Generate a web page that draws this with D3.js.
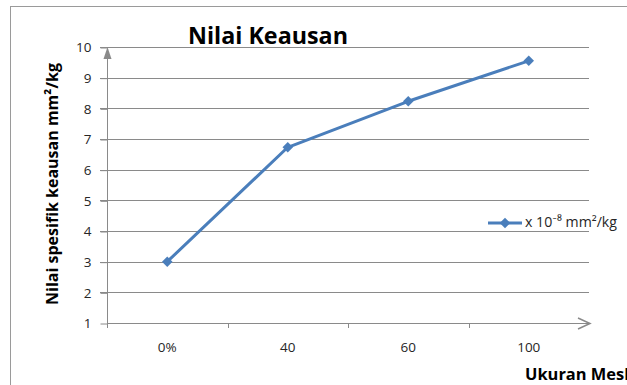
<!DOCTYPE html>
<html>
<head>
<meta charset="utf-8">
<script src="https://cdn.jsdelivr.net/npm/d3@7"></script>
<style>
  html, body { margin: 0; padding: 0; background: #fff; }
  svg { display: block; }
  text { font-family: "Open Sans", Lato, sans-serif; }
</style>
</head>
<body>
<svg id="chart" width="627" height="385"></svg>
<script>
const categories = ["0%", "40", "60", "100"];
const values = [3.0, 6.73, 8.23, 9.55];
const yTicks = [1, 2, 3, 4, 5, 6, 7, 8, 9, 10];
const chartTitle = "Nilai Keausan";
const yTitle = "Nilai spesifik keausan mm²/kg";
const xTitle = "Ukuran Mesh";
const seriesName = "x 10⁻⁸ mm²/kg";

(function () {
const svg = d3.select("#chart");
const pLeft = 107, pRight = 589, pTop = 47, pBottom = 323;
const gridColor = "#8a8a8a";
const lineColor = "#4a7ebb";

function fit(sel, target, base) {
  sel.style("font-size", base + "px");
  const w = sel.node().getComputedTextLength();
  if (w > 0) sel.style("font-size", (base * target / w).toFixed(2) + "px");
  return sel;
}

// outer frame
svg.append("rect").attr("x", 10.5).attr("y", 6.5).attr("width", 700).attr("height", 500)
  .attr("fill", "none").attr("stroke", "#9a9a9a").attr("stroke-width", 1);

const x = d3.scaleBand().domain(categories).range([pLeft, pRight]).paddingInner(0).paddingOuter(0);
const y = d3.scaleLinear().domain([1, 10]).range([pBottom, pTop]);

// gridlines
svg.append("g").selectAll("line").data(yTicks.filter(d => d !== 1)).join("line")
  .attr("x1", pLeft - 7).attr("x2", pRight)
  .attr("y1", d => Math.round(y(d)) + 0.5).attr("y2", d => Math.round(y(d)) + 0.5)
  .attr("stroke", gridColor).attr("stroke-width", 1);

// y axis
const yAxis = d3.axisLeft(y).tickValues(yTicks).tickSize(7).tickPadding(9);
const gy = svg.append("g").attr("transform", `translate(${pLeft + 0.5},0.5)`).call(yAxis);
gy.select(".domain").remove();
gy.selectAll(".tick line").attr("stroke", gridColor);
gy.selectAll(".tick text").attr("fill", "#262626").style("font-size", "13.5px").style("font-family", "'Open Sans', sans-serif");
svg.append("line").attr("x1", pLeft + 0.5).attr("x2", pLeft + 0.5).attr("y1", pBottom).attr("y2", pTop + 10)
  .attr("stroke", gridColor).attr("stroke-width", 1);
svg.append("path").attr("d", `M${pLeft + 0.5},${pTop} L${pLeft - 3.5},${pTop + 12} L${pLeft + 4.5},${pTop + 12} Z`)
  .attr("fill", gridColor);

// x axis
const xAxis = d3.axisBottom(x).tickSize(0).tickPadding(19);
const gx = svg.append("g").attr("transform", `translate(0,${pBottom + 0.5})`).call(xAxis);
gx.select(".domain").remove();
gx.selectAll(".tick text").attr("fill", "#262626").style("font-size", "13.5px").style("font-family", "'Open Sans', sans-serif");
svg.append("line").attr("x1", pLeft).attr("x2", pRight + 1).attr("y1", pBottom + 0.5).attr("y2", pBottom + 0.5)
  .attr("stroke", gridColor).attr("stroke-width", 1);
svg.append("g").selectAll("line").data(categories.slice(1)).join("line")
  .attr("x1", d => Math.round(x(d)) + 0.5).attr("x2", d => Math.round(x(d)) + 0.5)
  .attr("y1", pBottom).attr("y2", pBottom + 5)
  .attr("stroke", gridColor);
svg.append("line").attr("x1", pLeft + 0.5).attr("x2", pLeft + 0.5).attr("y1", pBottom).attr("y2", pBottom + 5).attr("stroke", gridColor);
svg.append("path").attr("d", `M${pRight - 11},${pBottom - 5} L${pRight + 1},${pBottom + 0.5} L${pRight - 11},${pBottom + 6}`)
  .attr("fill", "none").attr("stroke", gridColor).attr("stroke-width", 1.5);

// series line
const pts = categories.map((c, i) => [x(c) + x.bandwidth() / 2, y(values[i])]);
svg.append("path").attr("d", d3.line()(pts))
  .attr("fill", "none").attr("stroke", lineColor).attr("stroke-width", 3).attr("stroke-linejoin", "round");
const diamond = d3.symbol().type(d3.symbolDiamond2).size(70);
svg.append("g").selectAll("path").data(pts).join("path")
  .attr("transform", d => `translate(${d[0]},${d[1]})`)
  .attr("d", diamond).attr("fill", lineColor);

// titles
fit(svg.append("text").attr("x", 188).attr("y", 44).text(chartTitle)
  .style("font-weight", "bold").attr("fill", "#000"), 160, 22);
fit(svg.append("text").attr("transform", "translate(58,184) rotate(-90)").attr("text-anchor", "middle")
  .text(yTitle).style("font-weight", "bold").attr("fill", "#000"), 242, 15);
fit(svg.append("text").attr("x", 525).attr("y", 380).text(xTitle)
  .style("font-weight", "bold").attr("fill", "#000"), 110, 15);

// legend
const lg = svg.append("g");
lg.append("line").attr("x1", 488).attr("x2", 522).attr("y1", 223).attr("y2", 223)
  .attr("stroke", lineColor).attr("stroke-width", 3);
lg.append("path").attr("transform", "translate(505,223)").attr("d", diamond).attr("fill", lineColor);
fit(lg.append("text").attr("x", 525).attr("y", 227).text(seriesName)
  .attr("fill", "#262626"), 92, 12);
})();
</script>
</body>
</html>
